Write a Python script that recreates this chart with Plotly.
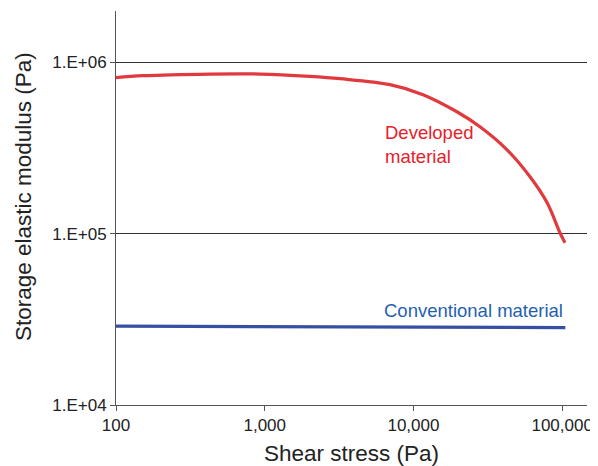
import plotly.graph_objects as go

# Developed material (red)
dev_x = [100, 152, 428, 929, 2017, 3210, 6960, 11600, 19600, 28000, 42600, 60800, 79100, 96800, 104500]
dev_y = [8.14e5, 8.36e5, 8.55e5, 8.55e5, 8.28e5, 8.03e5, 7.41e5, 6.48e5, 5.15e5, 4.21e5, 3.09e5, 2.15e5, 1.52e5, 1.01e5, 8.86e4]

# Conventional material (blue)
con_x = [100, 300, 1000, 3000, 10000, 30000, 105000]
con_y = [2.89e4, 2.88e4, 2.86e4, 2.85e4, 2.85e4, 2.84e4, 2.83e4]

x_ticks = [100, 1000, 10000, 100000]
x_labels = ["100", "1,000", "10,000", "100,000"]
y_ticks = [1e4, 1e5, 1e6]
y_labels = ["1.E+04", "1.E+05", "1.E+06"]

FONT = "Liberation Sans, Arial, sans-serif"

fig = go.Figure()
fig.add_trace(go.Scatter(x=dev_x, y=dev_y, mode="lines", line=dict(color="#e03a3e", width=3.2, shape="spline"), showlegend=False))
fig.add_trace(go.Scatter(x=con_x, y=con_y, mode="lines", line=dict(color="#3550a3", width=3.2), showlegend=False))

fig.add_annotation(x=3.796, y=5.52, xref="x", yref="y", text="Developed<br>material", showarrow=False,
                   xanchor="left", yanchor="middle", align="left",
                   font=dict(family=FONT, size=18.5, color="#e8202a"))
fig.add_annotation(x=5.019, y=4.552, xref="x", yref="y", text="Conventional material", showarrow=False,
                   xanchor="right", yanchor="middle", align="right",
                   font=dict(family=FONT, size=18.5, color="#1f5fb0"))
# y-axis title (placed as rotated text to match the reference position)
fig.add_annotation(x=-0.195, y=0.528, xref="paper", yref="paper", text="Storage elastic modulus (Pa)",
                   showarrow=False, textangle=-90, xanchor="center", yanchor="middle",
                   font=dict(family=FONT, size=22.5, color="#222"))

# page body has an 8px default margin: compensate so the plot area lands at x 116-587, y 11-405
fig.update_layout(
    width=590, height=458,
    margin=dict(l=108, r=11, t=3, b=61),
    paper_bgcolor="white", plot_bgcolor="white",
    font=dict(family=FONT, color="#222"),
)
fig.update_xaxes(type="log", range=[2, 5.167], tickvals=x_ticks, ticktext=x_labels,
                 showgrid=False, showline=True, linecolor="#555", linewidth=1,
                 ticks="outside", ticklen=5, tickcolor="#555",
                 tickfont=dict(size=17, color="#222"), ticklabeloverflow="allow",
                 title=dict(text="Shear stress (Pa)", font=dict(size=22.5, color="#222"), standoff=11),
                 zeroline=False, automargin=False)
fig.update_yaxes(type="log", range=[4, 6.30], tickvals=y_ticks, ticktext=y_labels,
                 showgrid=True, gridcolor="#333", gridwidth=1,
                 showline=True, linecolor="#555", linewidth=1,
                 ticks="outside", ticklen=5, tickcolor="#555",
                 tickfont=dict(size=17, color="#222"),
                 zeroline=False, automargin=False)

fig.write_html("out.html")
